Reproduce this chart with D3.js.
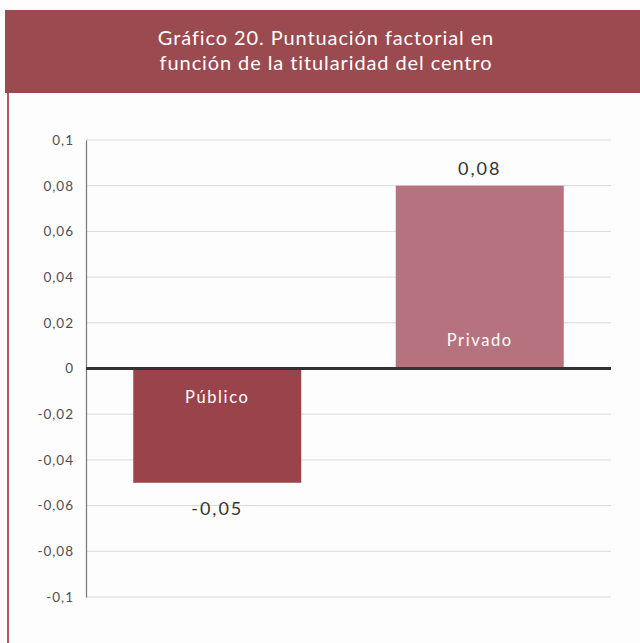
<!DOCTYPE html>
<html><head><meta charset="utf-8">
<script src="https://cdn.jsdelivr.net/npm/d3@7"></script>
<style>
html,body{margin:0;padding:0;background:#fff;}
svg{display:block;font-family:"Lato","Open Sans",sans-serif;}
</style></head>
<body>
<svg id="chart" width="640" height="643"></svg>
<script>
const categories = ["Público", "Privado"];
const values = [-0.05, 0.08];
const valueLabels = ["-0,05", "0,08"];
const tickValues = [0.1, 0.08, 0.06, 0.04, 0.02, 0, -0.02, -0.04, -0.06, -0.08, -0.1];
const tickLabels = ["0,1", "0,08", "0,06", "0,04", "0,02", "0", "-0,02", "-0,04", "-0,06", "-0,08", "-0,1"];
const titleLines = ["Gráfico 20. Puntuación factorial en", "función de la titularidad del centro"];
const barColors = ["#9b434b", "#b6737f"];

const svg = d3.select("#chart");
// panel
svg.append("rect").attr("x", 0).attr("y", 0).attr("width", 640).attr("height", 643).attr("fill", "#fdfdfd");
svg.append("rect").attr("x", 5).attr("y", 10).attr("width", 635).attr("height", 83).attr("fill", "#9b4a50");
svg.append("line").attr("x1", 8).attr("x2", 8).attr("y1", 93).attr("y2", 643)
  .attr("stroke", "#b3555c").attr("stroke-width", 2);
svg.append("text").attr("x", 326).attr("text-anchor", "middle").attr("fill", "#fff")
  .attr("font-size", 20).attr("letter-spacing", 0.9).attr("font-family", "Lato, 'Open Sans', sans-serif")
  .selectAll("tspan").data(titleLines).join("tspan")
  .attr("x", 326).attr("y", (d, i) => 45 + i * 25).text(d => d);

const x0 = 86, x1 = 611;
const y = d3.scaleLinear().domain([-0.1, 0.1]).range([597, 140]);
const x = d3.scaleBand().domain(categories).range([x0, x1]).paddingInner(0.36).paddingOuter(0.18);

// gridlines
svg.append("g").selectAll("line").data(tickValues.filter(v => v !== 0)).join("line")
  .attr("x1", x0).attr("x2", x1).attr("y1", d => y(d)).attr("y2", d => y(d))
  .attr("stroke", "#d9d9d9").attr("stroke-width", 1);

// y axis
const axis = d3.axisLeft(y).tickValues(tickValues).tickSize(0).tickPadding(12)
  .tickFormat((d, i) => tickLabels[i]);
const ag = svg.append("g").attr("transform", `translate(${x0},0)`).call(axis);
ag.select(".domain").attr("stroke", "#777").attr("stroke-width", 1.2);
ag.selectAll("text").attr("font-size", 13.5).attr("fill", "#505050").attr("letter-spacing", 1)
  .attr("font-family", "Lato, 'Open Sans', sans-serif");

// bars
svg.append("g").selectAll("rect").data(values).join("rect")
  .attr("x", (d, i) => x(categories[i]))
  .attr("width", x.bandwidth())
  .attr("y", d => Math.min(y(d), y(0)))
  .attr("height", d => Math.abs(y(d) - y(0)))
  .attr("fill", (d, i) => barColors[i]);

// zero line
svg.append("line").attr("x1", x0).attr("x2", x1).attr("y1", y(0)).attr("y2", y(0))
  .attr("stroke", "#333").attr("stroke-width", 3);

// category labels inside bars
svg.append("g").selectAll("text").data(values).join("text")
  .attr("x", (d, i) => x(categories[i]) + x.bandwidth() / 2)
  .attr("y", d => d < 0 ? y(0) + 34 : y(0) - 23)
  .attr("text-anchor", "middle").attr("fill", "#fff")
  .attr("font-size", 16.5).attr("letter-spacing", 1.6)
  .text((d, i) => categories[i]);

// value labels
svg.append("g").selectAll("text").data(values).join("text")
  .attr("x", (d, i) => x(categories[i]) + x.bandwidth() / 2)
  .attr("y", d => d < 0 ? y(d) + 32 : y(d) - 11)
  .attr("text-anchor", "middle").attr("fill", "#333")
  .attr("font-size", 18).attr("letter-spacing", 2)
  .text((d, i) => valueLabels[i]);
</script>
</body></html>
